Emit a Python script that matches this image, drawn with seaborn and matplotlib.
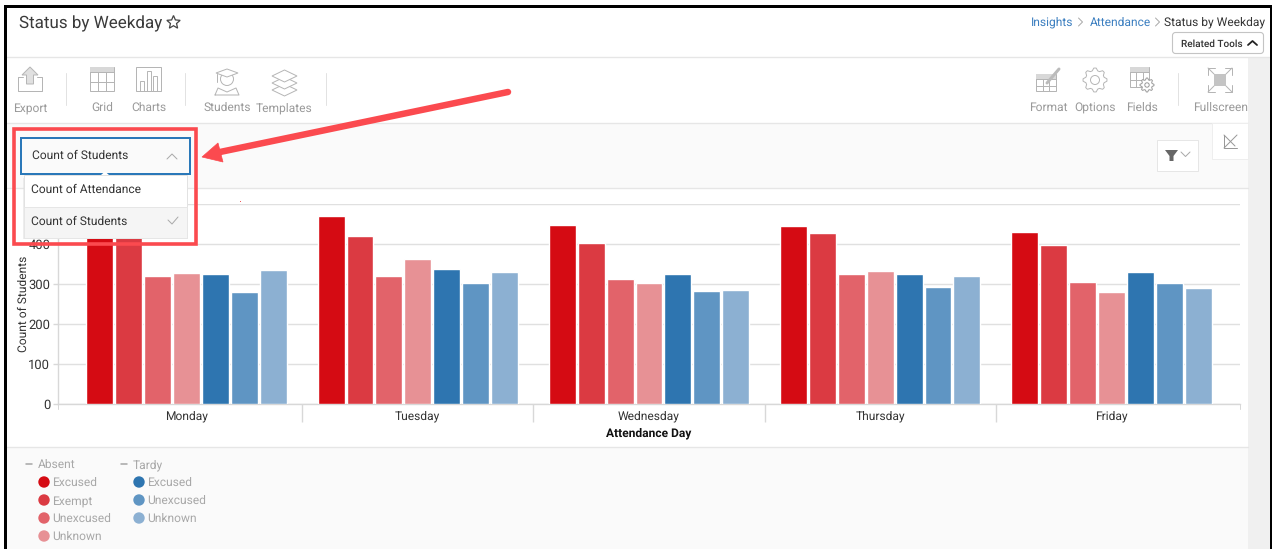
import numpy as np
import pandas as pd
import matplotlib
matplotlib.use("Agg")
import matplotlib.pyplot as plt
from matplotlib.patches import Rectangle, Polygon, FancyBboxPatch, Circle
import seaborn as sns

days = ["Monday", "Tuesday", "Wednesday", "Thursday", "Friday"]
statuses = ["Absent Excused", "Absent Exempt", "Absent Unexcused", "Absent Unknown",
            "Tardy Excused", "Tardy Unexcused", "Tardy Unknown"]
absent_excused = [452, 469, 448, 444, 430]
absent_exempt = [441, 421, 402, 427, 398]
absent_unexcused = [319, 319, 313, 324, 304]
absent_unknown = [328, 363, 303, 332, 281]
tardy_excused = [326, 337, 326, 326, 331]
tardy_unexcused = [280, 303, 283, 293, 303]
tardy_unknown = [336, 329, 285, 321, 289]
colors = ["#d50b13", "#db3a42", "#e2636a", "#e79195", "#2e75b0", "#5f95c3", "#8cb0d2"]
y_ticks = [0, 100, 200, 300, 400, 500]
absent_legend = ["Excused", "Exempt", "Unexcused", "Unknown"]
tardy_legend = ["Excused", "Unexcused", "Unknown"]

W, H = 1272, 549
sns.set_theme(style="white")
plt.rcParams["font.family"] = ["Roboto", "DejaVu Sans"]
plt.rcParams["text.hinting"] = "no_hinting"
plt.rcParams["text.hinting_factor"] = 1


def fs(px):
    return px * 0.72


fig = plt.figure(figsize=(W / 100, H / 100), dpi=100, facecolor="white")

# page background bands
bg = fig.add_axes([0, 0, 1, 1], zorder=0)
bg.set_xlim(0, W)
bg.set_ylim(H, 0)
bg.axis("off")
bg.add_patch(Rectangle((6, 123), 1242, 65, fc="#fafafa", ec="none"))
bg.add_patch(Rectangle((6, 447), 1242, 102, fc="#fafafa", ec="none"))
bg.add_patch(Rectangle((1248, 57), 22, 492, fc="#f0f0f0", ec="none"))
for y in (56.5, 122.5, 187.5, 447):
    bg.plot([6, 1248 if y > 60 else 1270], [y, y], color="#e6e6e6", lw=1)

# bar chart
ax = fig.add_axes([58 / W, 1 - 404 / H, (1240 - 58) / W, 200 / H], zorder=1)
ax.patch.set_alpha(0)
series = [absent_excused, absent_exempt, absent_unexcused, absent_unknown,
          tardy_excused, tardy_unexcused, tardy_unknown]
frame = pd.DataFrame({
    "day": np.tile(days, len(statuses)),
    "status": np.repeat(statuses, len(days)),
    "count": np.concatenate(series),
})
sns.barplot(data=frame, x="day", y="count", hue="status", order=days, hue_order=statuses,
            palette=colors, width=0.875, gap=0.07, saturation=1, legend=False, ax=ax,
            errorbar=None, zorder=3)
pad = 13 / 231.25
ax.set_xlim(-0.5 - pad, 4.5 + pad)
ax.set_ylim(0, 500)
ax.set_yticks(y_ticks)
ax.set_yticklabels([str(v) for v in y_ticks], fontsize=fs(12.5), color="#333333")
ax.tick_params(axis="y", length=3.6, width=1, color="#d8d8d8", pad=2, left=True)
ax.set_xticks(range(5))
ax.set_xticklabels(days, fontsize=fs(11.8), color="#333333")
ax.tick_params(axis="x", which="major", length=0, pad=4.5)
ax.set_xticks([0.5, 1.5, 2.5, 3.5], minor=True)
ax.tick_params(axis="x", which="minor", length=13, width=1, color="#d8d8d8", bottom=True)
ax.grid(axis="y", color="#e0e0e0", lw=1, zorder=0)
ax.set_axisbelow(True)
for name, spine in ax.spines.items():
    spine.set_visible(name in ("left", "bottom"))
    spine.set_color("#d8d8d8")
    spine.set_linewidth(1)
ax.set_xlabel("Attendance Day", fontsize=fs(12), fontweight="bold", color="#111111", labelpad=0.5)
ax.set_ylabel("Count of Students", fontsize=fs(12.2), color="#333333", labelpad=-1)

# application chrome drawn above the chart, in pixel coordinates
ui = fig.add_axes([0, 0, 1, 1], zorder=2)
ui.set_xlim(0, W)
ui.set_ylim(H, 0)
ui.axis("off")
ui.patch.set_alpha(0)


def label(x, y, s, size=12.5, color="#333333", ha="left", **kw):
    ui.text(x, y + size * 0.36, s, fontsize=fs(size), color=color, ha=ha, va="baseline", **kw)


def stroke(xs, ys, color="#b5b5b5", lw=1.0, zorder=4, **kw):
    ui.plot(xs, ys, color=color, lw=lw * 0.72, solid_capstyle="round", solid_joinstyle="round",
            zorder=zorder, **kw)


def box(x0, y0, x1, y1, ec="#b5b5b5", fc="none", lw=1.0, z=3):
    ui.add_patch(Rectangle((x0, y0), x1 - x0, y1 - y0, ec=ec, fc=fc, lw=lw * 0.72, zorder=z))


def grid_icon(x0, y0, x1, y1, band=True):
    box(x0, y0, x1, y1)
    if band:
        ui.add_patch(Rectangle((x0, y0), x1 - x0, 5, fc="#d8d8d8", ec="none", zorder=3))
    for f in (1 / 3, 2 / 3):
        stroke([x0 + (x1 - x0) * f] * 2, [y0 + 5, y1])
    stroke([x0, x1], [(y0 + y1) / 2 + 3] * 2)
    stroke([x0, x1], [y0 + 5] * 2)


def gear(cx, cy, outer, inner, hole, ec="#b5b5b5", z=4):
    steps = np.arange(32)
    radii = np.where(steps % 4 < 2, outer, inner)
    angles = (steps - 0.5) * 2 * np.pi / 32
    ui.add_patch(Polygon(np.c_[cx + radii * np.cos(angles), cy + radii * np.sin(angles)],
                         fc="white", ec=ec, lw=0.7, zorder=z))
    ui.add_patch(Circle((cx, cy), hole, fc="white", ec=ec, lw=0.7, zorder=z + 1))


# header
label(19, 22, "Status by Weekday", size=16.6, color="#3a3a3a")
angles = np.deg2rad(np.arange(10) * 36 - 90)
radii = np.where(np.arange(10) % 2 == 0, 7, 3.2)
ui.add_patch(Polygon(np.c_[173.5 + radii * np.cos(angles), 22.5 + radii * np.sin(angles)],
                     fc="none", ec="#444444", lw=0.9))
label(1031, 21.5, "Insights", size=11.8, color="#3c7fc0")
label(1090, 21.5, "Attendance", size=11.8, color="#3c7fc0")
label(1265, 21.5, "Status by Weekday", size=11.6, color="#333333", ha="right")
for cx in (1081, 1158):
    stroke([cx - 2.5, cx + 1.5, cx - 2.5], [18, 22, 26], color="#aaaaaa")
ui.add_patch(FancyBboxPatch((1174, 34), 88, 18, boxstyle="round,pad=1.5,rounding_size=3",
                            fc="white", ec="#c4c4c4", lw=0.8))
label(1181, 43, "Related Tools", size=10.3, color="#333333", fontweight="medium")
stroke([1248, 1252.5, 1257], [45, 41, 45], color="#222222", lw=1.8)

# toolbar icons and captions
for s, x in [("Export", 30), ("Grid", 102), ("Charts", 149), ("Students", 227), ("Templates", 284.5),
             ("Format", 1048), ("Options", 1095), ("Fields", 1142), ("Fullscreen", 1220)]:
    label(x, 107, s, size=12, color="#9a9a9a", ha="center")
for x in (65.5, 185, 326, 1178):
    stroke([x, x], [73, 105], color="#e2e2e2")

# export
stroke([23, 18, 18, 42, 42, 37], [77, 77, 91, 91, 77, 77])
ui.add_patch(Polygon([(30, 67), (38, 75), (33.5, 75), (33.5, 84), (26.5, 84), (26.5, 75), (22, 75)],
                     fc="#e0e0e0", ec="#b5b5b5", lw=0.7))
# grid
grid_icon(90, 67, 114, 91)
# charts
box(136, 67, 161, 91)
for x0, top in [(140, 81), (146.5, 71), (153, 76)]:
    ui.add_patch(Rectangle((x0, top), 4, 91 - top, fc="white", ec="#b5b5b5", lw=0.7))
# students
ui.add_patch(Circle((227, 79), 6.5, fc="white", ec="#b5b5b5", lw=0.7))
ui.add_patch(Polygon([(227, 69), (238, 73), (227, 77), (216, 73)], fc="white", ec="#b5b5b5", lw=0.7))
stroke([215, 218, 227, 236, 239, 215], [95, 88, 92, 88, 95, 95])
stroke([217, 217], [74, 82])
# templates
for dy in (14, 7, 0):
    ui.add_patch(Polygon([(284.5, 70 + dy), (297, 76 + dy), (284.5, 82 + dy), (272, 76 + dy)],
                         fc="white", ec="#b5b5b5", lw=0.7))
# format
grid_icon(1036, 74, 1056, 91)
stroke([1047, 1059], [83, 69], color="#bbbbbb", lw=3)
# options
gear(1095, 80, 12, 9.5, 4.5)
# fields
grid_icon(1130, 67, 1149, 87)
gear(1147, 85, 7, 5.3, 2.2, ec="#999999", z=5)
# fullscreen
ui.add_patch(Rectangle((1214, 74), 12, 12, fc="#c4c4c4", ec="none"))
for sx, sy in [(-1, -1), (1, -1), (-1, 1), (1, 1)]:
    cx, cy = 1220 + sx * 12, 80 + sy * 12
    stroke([cx - sx * 7, cx, cx], [cy, cy, cy - sy * 7], color="#b5b5b5")
    stroke([cx, cx - sx * 6], [cy, cy - sy * 6], color="#b5b5b5")

# filter button and collapse tab
box(1157, 140, 1198, 171, ec="#e6e6e6", fc="white")
ui.add_patch(Polygon([(1165, 150), (1178, 150), (1173.5, 156), (1173.5, 161), (1169.5, 161), (1169.5, 156)],
                     fc="#666666", ec="none", zorder=4))
stroke([1181, 1185.5, 1190], [152, 156.5, 152], color="#aaaaaa")
box(1212, 123, 1248, 159, ec="#eeeeee", fc="white")
stroke([1224, 1224, 1237], [135, 148, 148], color="#999999")
stroke([1224, 1237], [148, 135], color="#999999")
stroke([1224, 1235], [135, 146], color="#999999")

# short end ticks of the category axis
stroke([58, 58], [404, 409], color="#d8d8d8", zorder=1)
stroke([1239.5, 1239.5], [404, 409], color="#d8d8d8", zorder=1)

# measure selector and its open list
ui.add_patch(Rectangle((23, 178), 164, 61, fc="#dddddd", ec="none", alpha=0.5, zorder=4))
box(23.5, 175, 187, 238, ec="#e2e2e2", fc="white", z=5)
ui.add_patch(Rectangle((24, 207), 163, 31, fc="#f5f5f5", ec="#e6e6e6", lw=0.7, zorder=5))
box(21, 138, 190, 174, ec="#2a78b9", fc="#fafafa", lw=2, z=6)
ui.add_patch(Polygon([(101, 175), (105, 171.5), (109, 175)], fc="white", ec="none", zorder=7))
label(32, 154.5, "Count of Students", size=11.9, zorder=7)
stroke([167, 172, 177], [159, 154, 159], color="#aaaaaa", zorder=7)
label(31, 189, "Count of Attendance", size=11.7, zorder=7)
label(31, 221, "Count of Students", size=11.9, zorder=7)
stroke([168, 172, 178], [220, 224, 217], color="#aaaaaa", zorder=7)
ui.add_patch(Rectangle((239.5, 200.5), 1.4, 1.4, fc="#f05a5a", ec="none", zorder=4))

# callout
box(13.5, 128.5, 195.5, 243.5, ec="#fb4a4f", lw=3.6, z=8)
stroke([508, 220], [92, 152], color="#fb4a4f", lw=6.5, zorder=8)
ui.add_patch(Polygon([(202, 157), (218, 143), (223, 162)], fc="#fb4a4f", ec="#fb4a4f", lw=0.5, zorder=8))

# legend
groups = [("Absent", 29, absent_legend, colors[:4]), ("Tardy", 124, tardy_legend, colors[4:])]
for title, x, names, cols in groups:
    stroke([x - 3, x + 3], [464, 464], color="#aaaaaa", lw=1.6)
    label(x + 9, 464, title, color="#a8a8a8", size=12)
    for i, (name, col) in enumerate(zip(names, cols)):
        y = 482 + i * 18
        ui.add_patch(Circle((x + 15, y), 5.7, fc=col, ec="none"))
        label(x + 23.5, y, name, color="#a8a8a8", size=12)

# outer frame of the screen capture
for rect in [(4, 5, 2.5, H - 5), (4, 5, 1268, 2.5), (1270, 5, 2, H - 5)]:
    ui.add_patch(Rectangle(rect[:2], rect[2], rect[3], fc="#000000", ec="none", zorder=9))

fig.savefig("out.png", dpi=100)
